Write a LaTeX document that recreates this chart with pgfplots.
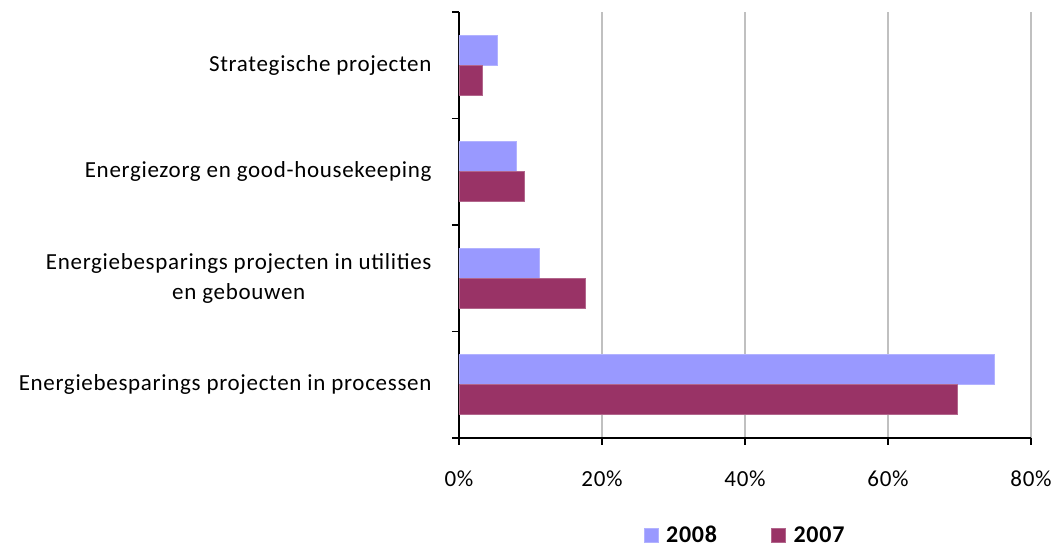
\documentclass[border=0pt]{standalone}
\usepackage{pgfplots}
\pgfplotsset{compat=1.18}
\usepackage{fontspec}
\setmainfont{Carlito}[LetterSpace=3]
\definecolor{cA}{HTML}{9999FF}
\definecolor{cB}{HTML}{993366}
\definecolor{gridc}{HTML}{C0C0C0}
\begin{document}
\begin{tikzpicture}
\begin{axis}[
  name=ax,
  scale only axis,
  width=572bp, height=426bp,
  xbar, bar width=30bp,
  xmin=0, xmax=80,
  ymin=-0.5, ymax=3.5,
  axis x line*=bottom,
  axis y line*=left,
  axis line style={black, line width=1.3bp},
  tick align=outside,
  xtick pos=bottom, ytick pos=left,
  every tick/.style={black, line width=1.3bp},
  major tick length=7bp,
  xtick={0,20,40,60,80},
  xticklabels={0\%,20\%,40\%,60\%,80\%},
  xmajorgrids,
  grid style={gridc, line width=1.4bp},
  xticklabel style={font=\fontsize{23bp}{28bp}\selectfont, yshift=-22bp},
  ytick={-0.5,0.5,1.5,2.5,3.5},
  yticklabels={},
  extra y ticks={0,1,2,3},
  extra y tick labels={Energiebesparings projecten in processen,
               {Energiebesparings projecten in utilities\\en gebouwen},
               Energiezorg en good-housekeeping,
               Strategische projecten},
  extra y tick style={major tick length=0pt, tick style={draw=none},
     yticklabel style={font=\fontsize{23bp}{30bp}\selectfont, align=center, xshift=-24bp}},
  legend columns=2,
  legend style={draw=none, at={(0.5,0)}, anchor=center, yshift=-97bp,
    font=\fontsize{24bp}{28bp}\selectfont\bfseries,
    /tikz/every odd column/.append style={column sep=6bp},
    /tikz/every even column/.append style={column sep=52bp}},
  legend image code/.code={\fill[#1] (0bp,-7bp) rectangle (14bp,7bp);},
]
\addplot[fill=cA, draw=cA!75!white, line width=0.6bp, bar shift=15bp] coordinates {(74.9,0) (11.2,1) (8.0,2) (5.4,3)};
\addplot[fill=cB, draw=cB!75!white, line width=0.6bp, bar shift=-15bp] coordinates {(69.7,0) (17.7,1) (9.1,2) (3.3,3)};
\legend{2008,2007}
\end{axis}
\path[use as bounding box] ([xshift=-459bp,yshift=-106bp]ax.south west) rectangle ([xshift=24bp,yshift=12bp]ax.north east);
\end{tikzpicture}
\end{document}
